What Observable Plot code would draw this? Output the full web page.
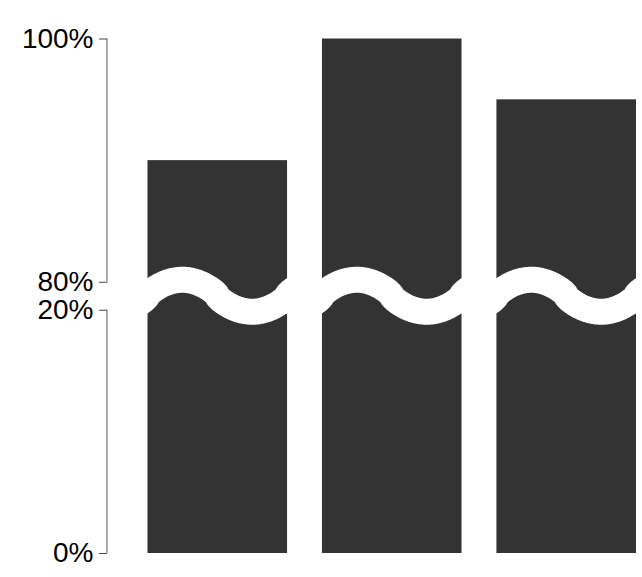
<!DOCTYPE html>
<html><head><meta charset="utf-8">
<script src="https://cdn.jsdelivr.net/npm/d3@7"></script>
<script src="https://cdn.jsdelivr.net/npm/@observablehq/plot@0.6"></script>
<style>html,body{margin:0;padding:0;background:#fff;} #chart{width:642px;height:577px;}</style>
</head><body><div id="chart"></div>
<script>
const categories = ["A", "B", "C"];
const values = [90, 100, 95];
const tickValues = [0, 20, 80, 100];
const lowerRange = [0, 20];
const upperRange = [80, 100];

const gap = 2.3;
const shift = upperRange[0] - lowerRange[1] - gap;
const toDisplay = v => v <= lowerRange[1] ? v : v - shift;
const fromDisplay = d => d <= lowerRange[1] + 1e-9 ? d : d + shift;

const data = categories.map((c, i) => ({category: c, value: values[i], display: toDisplay(values[i])}));

function breakMarks(index, scales, vals, dims) {
  const {x, y} = scales;
  const g = d3.create("svg:g");
  const ax = dims.marginLeft;
  for (const [a, b] of [lowerRange, upperRange]) {
    g.append("line").attr("x1", ax).attr("x2", ax)
      .attr("y1", y(toDisplay(a))).attr("y2", y(toDisplay(b)))
      .attr("stroke", "#999").attr("stroke-width", 1.6);
  }
  const yMid = (y(toDisplay(lowerRange[1])) + y(toDisplay(upperRange[0]))) / 2;
  const bw = x.bandwidth();
  const wave = t => { const s = Math.sin(2 * Math.PI * t); return Math.sign(s) * Math.pow(Math.abs(s), 0.75); };
  for (const c of categories) {
    const x0 = x(c);
    const pts = d3.range(-0.08, 1.0801, 0.005).map(t => [x0 + t * bw, yMid - 16 * wave(t)]);
    g.append("path").attr("d", d3.line()(pts)).attr("fill", "none")
      .attr("stroke", "#fff").attr("stroke-width", 26);
  }
  return g.node();
}

const plot = Plot.plot({
  width: 642, height: 577,
  marginLeft: 107, marginRight: 6, marginTop: 38.5, marginBottom: 24,
  style: {fontFamily: "'Liberation Sans', Arial, sans-serif", fontSize: "28px", background: "#fff", color: "#000"},
  x: {domain: categories, paddingInner: 0.2, paddingOuter: 0.116, align: 1, round: false, axis: null},
  y: {domain: [0, toDisplay(upperRange[1])]},
  marks: [
    Plot.barY(data, {x: "category", y: "display", fill: "#333"}),
    breakMarks,
    Plot.axisY({ticks: tickValues.map(toDisplay), tickFormat: d => Math.round(fromDisplay(d)) + "%",
      tickSize: 8, tickPadding: 6, stroke: "#444", fill: "#000", label: null, fontSize: 28})
  ]
});
document.getElementById("chart").append(plot);
</script>
</body></html>
